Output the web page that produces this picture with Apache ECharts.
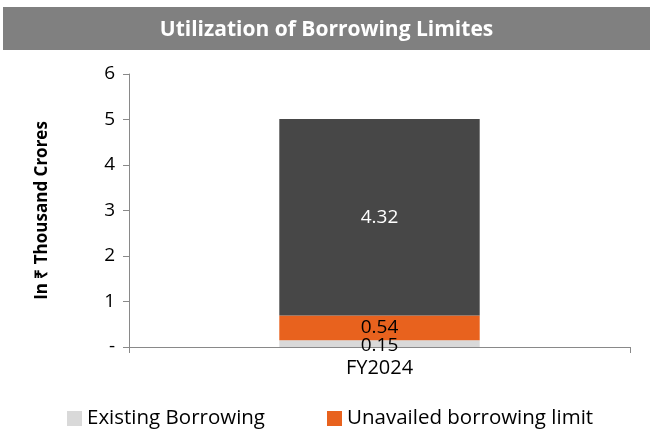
<!DOCTYPE html>
<html><head><meta charset="utf-8">
<script src="https://cdn.jsdelivr.net/npm/echarts@6/dist/echarts.min.js"></script>
<style>html,body{margin:0;padding:0;background:#fff}#c{width:653px;height:434px}</style>
</head><body><div id="c"></div>
<script>
const categories = ['FY2024'];
const existingBorrowing = [0.15];
const unavailedLimit = [0.54];
const remainingLimit = [4.32];
const yTicks = ['-', '1', '2', '3', '4', '5', '6'];

const FONT = 'Open Sans';
const chart = echarts.init(document.getElementById('c'), null, {renderer: 'canvas'});
chart.setOption({
  animation: false,
  textStyle: {fontFamily: FONT},
  graphic: [{
    type: 'rect', left: 3, top: 7, shape: {width: 647, height: 43},
    style: {fill: '#808080'}, z: 0
  }],
  title: {
    text: 'Utilization of Borrowing Limites', left: 'center', top: 15,
    textStyle: {color: '#fff', fontSize: 21, fontWeight: 'bold', fontFamily: FONT}
  },
  legend: {
    data: ['Existing Borrowing', 'Unavailed borrowing limit'],
    top: 408, left: 67, itemWidth: 15, itemHeight: 15, itemGap: 62,
    icon: 'rect', padding: 0,
    textStyle: {fontSize: 20.5, color: '#000', fontFamily: FONT, padding: [0, 0, 0, 0]}
  },
  grid: {left: 129, right: 23, top: 74, bottom: 87},
  xAxis: {
    type: 'category', data: categories,
    axisLine: {lineStyle: {color: '#898989'}},
    axisTick: {show: true, length: 6, lineStyle: {color: '#898989'}},
    axisLabel: {fontSize: 20, color: '#000', margin: 11, fontFamily: FONT}
  },
  yAxis: {
    type: 'value', min: 0, max: 6, interval: 1,
    name: 'In ₹ Thousand Crores', nameLocation: 'middle', nameGap: 78, nameRotate: 90,
    nameTextStyle: {fontSize: 17, fontWeight: 'bold', color: '#000', fontFamily: FONT},
    splitLine: {show: false},
    axisLine: {show: true, lineStyle: {color: '#898989'}},
    axisTick: {show: true, length: 6, lineStyle: {color: '#898989'}},
    axisLabel: {fontSize: 19, color: '#000', margin: 14, fontFamily: FONT,
      formatter: v => yTicks[Math.round(v)]}
  },
  series: [
    {name: 'Existing Borrowing', type: 'bar', stack: 't', data: existingBorrowing,
     barWidth: '40%', itemStyle: {color: '#d9d9d9'},
     label: {show: true, position: 'inside', offset: [0, 2], fontSize: 19, color: '#000', fontFamily: FONT}},
    {name: 'Unavailed borrowing limit', type: 'bar', stack: 't', data: unavailedLimit,
     itemStyle: {color: '#e8621e'},
     label: {show: true, position: 'inside', fontSize: 19, color: '#000', fontFamily: FONT}},
    {name: 'Remaining limit', type: 'bar', stack: 't', data: remainingLimit,
     itemStyle: {color: '#474747'},
     label: {show: true, position: 'inside', fontSize: 19, color: '#fff', fontFamily: FONT}}
  ]
});
</script></body></html>
